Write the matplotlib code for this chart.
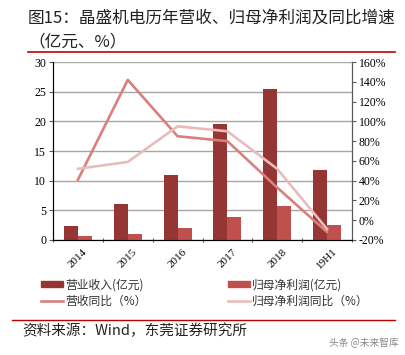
import matplotlib.pyplot as plt
import numpy as np
from matplotlib.lines import Line2D
from matplotlib.patches import Patch

plt.rcParams['font.family'] = ['Noto Sans CJK SC', 'DejaVu Sans']

years = ['2014', '2015', '2016', '2017', '2018', '19H1']
revenue = [2.4, 6.0, 11.0, 19.5, 25.4, 11.8]
profit = [0.6, 1.0, 2.1, 3.9, 5.8, 2.6]
rev_yoy = [41, 142, 85, 80, 33, -12]
profit_yoy = [52, 59, 95, 90, 52, -9]

c_rev = '#963634'
c_profit = '#C0504D'
c_rev_yoy = '#D9807D'
c_profit_yoy = '#E8BCBB'
serif = 'Liberation Serif'

fig = plt.figure(figsize=(4.05, 3.55), dpi=100)
ax = fig.add_axes([0.131, 0.324, 0.738, 0.501])
x = np.arange(len(years))
w = 0.28
ax.bar(x - w / 2, revenue, w, color=c_rev, zorder=3)
ax.bar(x + w / 2, profit, w, color=c_profit, zorder=3)
ax.set_xlim(-0.5, len(years) - 0.5)
ax.set_ylim(0, 30)
ax.set_yticks(range(0, 31, 5))
ax.yaxis.grid(True, color='#A6A6A6', lw=1.0, zorder=0)
ax.set_axisbelow(True)
ax.set_xticks(np.arange(-0.5, len(years), 1))
ax.set_xticklabels([])
ax.set_xticks(x, minor=True)
ax.set_xticklabels(years, minor=True, rotation=45, family=serif, fontsize=8)
ax.tick_params(axis='x', which='minor', length=0, pad=5)
ax.tick_params(axis='x', which='major', length=3, direction='inout', color='#595959')
ax.tick_params(axis='y', length=3, color='#595959', labelsize=8.5, pad=2)
for lbl in ax.get_yticklabels():
    lbl.set_family(serif)
ax.spines['top'].set_visible(False)
for s in ['left', 'bottom', 'right']:
    ax.spines[s].set_color('#595959')

ax2 = ax.twinx()
ax2.plot(x, rev_yoy, color=c_rev_yoy, lw=1.9, zorder=4)
ax2.plot(x, profit_yoy, color=c_profit_yoy, lw=1.9, zorder=4)
ax2.set_ylim(-20, 160)
ax2.set_yticks(range(-20, 161, 20))
ax2.set_yticklabels([f'{v}%' for v in range(-20, 161, 20)], family=serif, fontsize=8.5)
ax2.tick_params(axis='y', length=3, color='#595959', pad=2)
ax2.spines['top'].set_visible(False)
ax2.spines['right'].set_color('#595959')

handles = [Patch(color=c_rev), Line2D([], [], color=c_rev_yoy, lw=1.9),
           Patch(color=c_profit), Line2D([], [], color=c_profit_yoy, lw=1.9)]
labels = ['营业收入(亿元)', '营收同比（%）', '归母净利润(亿元)', '归母净利润同比（%）']
fig.legend(handles, labels, ncol=2, loc='center left', bbox_to_anchor=(0.101, 0.175),
           frameon=False, fontsize=8.5, handlelength=1.9, handleheight=0.5,
           columnspacing=6.9, labelspacing=0.3, handletextpad=0.15, borderpad=0,
           borderaxespad=0, labelcolor='#333333')

fig.text(0.069, 0.95, '图15：晶盛机电历年营收、归母净利润及同比增速', fontsize=12,
         va='center', color='#222222')
fig.text(0.069, 0.882, '（亿元、%）', fontsize=12, va='center', color='#222222')
fig.add_artist(Line2D([0.069, 0.975], [0.853, 0.853], color='#C00000', lw=1.2))
fig.add_artist(Line2D([0.03, 0.975], [0.10, 0.10], color='#C00000', lw=1.0))
fig.text(0.055, 0.068, '资料来源：Wind，东莞证券研究所', fontsize=10.5, va='center', color='#222222')
fig.text(0.985, 0.035, '头条 @未来智库', fontsize=7, ha='right', va='center', color='#888888')

fig.savefig('out.png', dpi=100)
